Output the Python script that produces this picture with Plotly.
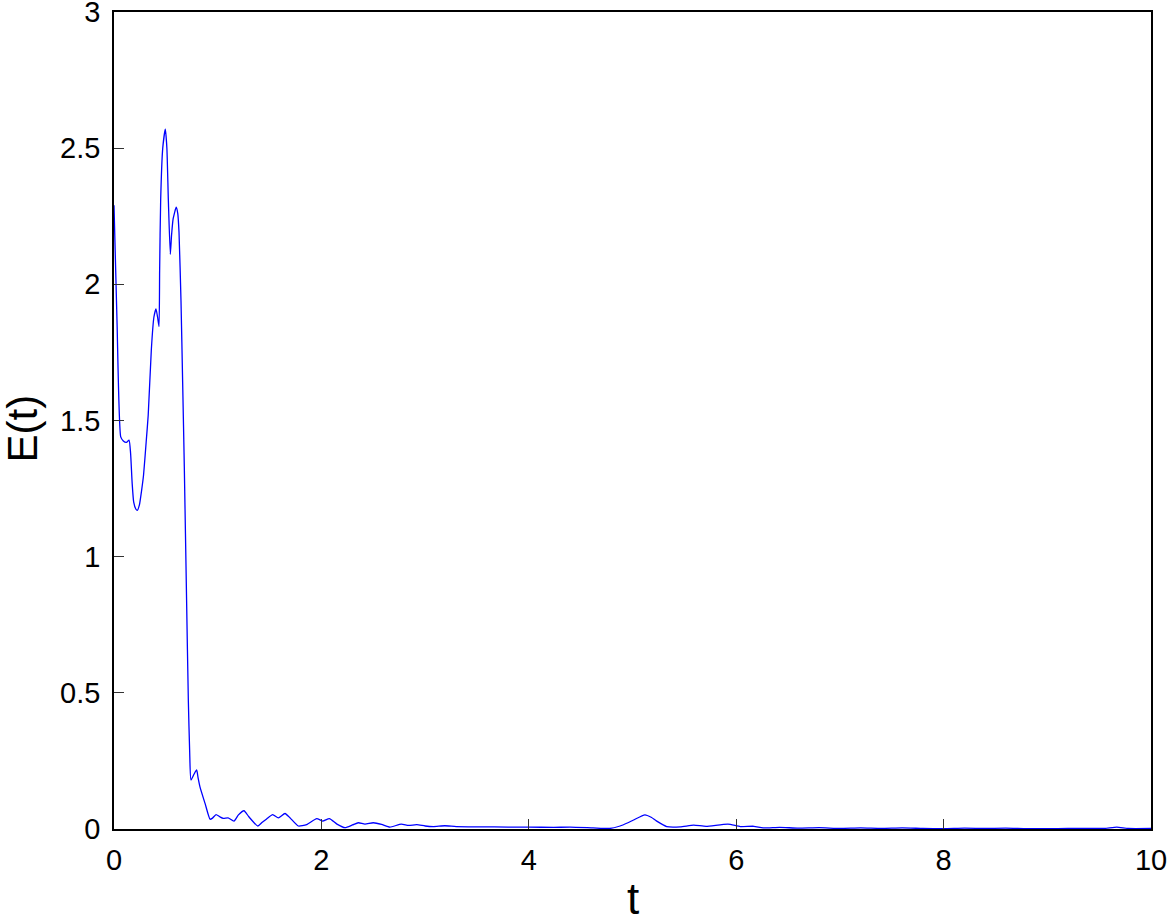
import plotly.graph_objects as go

t = [0.0, 0.03, 0.065, 0.09, 0.12, 0.145, 0.16, 0.175, 0.19, 0.21, 0.225, 0.245,
     0.265, 0.285, 0.31, 0.33, 0.36, 0.385, 0.405, 0.42, 0.434, 0.44, 0.45, 0.47,
     0.495, 0.51, 0.524, 0.543, 0.555, 0.57, 0.60, 0.615, 0.627, 0.646, 0.662,
     0.678, 0.70, 0.717, 0.73, 0.742, 0.77, 0.797, 0.81, 0.829, 0.878, 0.926,
     0.95, 0.984, 1.02, 1.054, 1.10, 1.157, 1.20, 1.254, 1.30, 1.386, 1.43,
     1.472, 1.53, 1.585, 1.649, 1.70, 1.777, 1.858, 1.955, 2.013, 2.077, 2.15,
     2.228, 2.30, 2.356, 2.42, 2.50, 2.58, 2.66, 2.77, 2.84, 2.92, 3.0, 3.08,
     3.19, 3.30, 3.53, 3.8, 4.0, 4.24, 4.40, 4.62, 4.78, 4.88, 4.95, 5.01, 5.12,
     5.18, 5.23, 5.33, 5.46, 5.59, 5.71, 5.92, 6.04, 6.17, 6.26, 6.42, 6.6, 6.8,
     7.0, 7.2, 7.4, 7.6, 7.8, 8.0, 8.2, 8.4, 8.6, 8.8, 9.0, 9.2, 9.4, 9.55,
     9.67, 9.78, 10.0]
E = [2.29, 1.85, 1.44, 1.425, 1.42, 1.428, 1.38, 1.27, 1.20, 1.175, 1.17, 1.19,
     1.24, 1.30, 1.42, 1.52, 1.76, 1.88, 1.91, 1.88, 1.845, 2.05, 2.31, 2.50,
     2.57, 2.50, 2.31, 2.11, 2.18, 2.24, 2.283, 2.26, 2.19, 1.94, 1.64,
     1.33, 0.84, 0.47, 0.28, 0.18, 0.20, 0.217, 0.19, 0.155, 0.094, 0.036,
     0.04, 0.053, 0.045, 0.039, 0.041, 0.029, 0.052, 0.067, 0.045, 0.011, 0.025,
     0.037, 0.053, 0.041, 0.057, 0.040, 0.011, 0.016, 0.038, 0.029, 0.038, 0.018,
     0.005, 0.015, 0.023, 0.018, 0.023, 0.017, 0.007, 0.018, 0.013, 0.016, 0.011, 0.009,
     0.012, 0.009, 0.008, 0.007, 0.007, 0.006, 0.007, 0.004, 0.002, 0.011, 0.022, 0.033, 0.052,
     0.043, 0.030, 0.009, 0.008, 0.014, 0.010, 0.018, 0.009, 0.010, 0.004, 0.006, 0.003, 0.005,
     0.002, 0.004, 0.002, 0.004, 0.002, 0.001, 0.003, 0.002, 0.003, 0.001, 0.001, 0.002, 0.002, 0.002,
     0.007, 0.002, 0.002]

xticks = [0, 2, 4, 6, 8, 10]
yticks = [0, 0.5, 1, 1.5, 2, 2.5, 3]

fig = go.Figure(go.Scatter(x=t, y=E, mode="lines",
                           line={"color": "#0000ff", "width": 1.3,
                                 "shape": "spline", "smoothing": 0.5}))

font = "Liberation Sans, Arial"
axis = dict(showline=True, linecolor="black", linewidth=1.5, mirror=True,
            ticks="inside", ticklen=10, tickwidth=1.2, tickcolor="#333",
            showgrid=False, zeroline=False, automargin=False,
            ticklabeloverflow="allow",
            tickfont={"family": font, "size": 29, "color": "black"})

fig.update_layout(
    width=1168, height=919,
    margin={"l": 114, "r": 17, "t": 12, "b": 90},
    plot_bgcolor="white", paper_bgcolor="white",
    showlegend=False,
    xaxis=dict(axis, range=[0, 10], tickvals=xticks, ticklabelstandoff=4),
    yaxis=dict(axis, range=[0, 3], tickvals=yticks, ticklabelstandoff=6),
)

# axis titles as annotations so they sit where the reference has them
fig.add_annotation(text="t", xref="paper", yref="paper", x=0.5, y=-0.085,
                   xanchor="center", yanchor="middle", showarrow=False,
                   font={"family": font, "size": 44, "color": "black"})
fig.add_annotation(text="E(t)", xref="paper", yref="paper", x=-0.088, y=0.49,
                   xanchor="center", yanchor="middle", showarrow=False, textangle=-90,
                   font={"family": font, "size": 42, "color": "black"})

# page has a default 8px body margin; drop it so the figure sits at the corner
fig.write_html("out.html", config={"displayModeBar": False},
               post_script="document.body.style.margin='0';")
